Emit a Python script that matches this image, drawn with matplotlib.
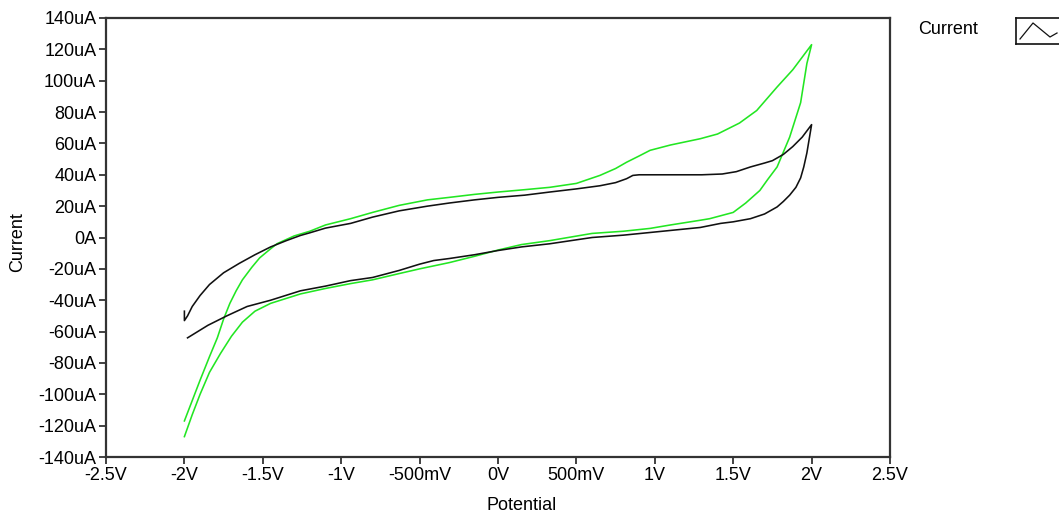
import matplotlib
matplotlib.use("Agg")
from matplotlib import pyplot as plt
from matplotlib.ticker import FixedLocator

plt.rcParams['font.family'] = ['Liberation Sans', 'DejaVu Sans']

# potential in V, current in uA
black_fwd_v = [-2.0, -2.0, -1.98, -1.95, -1.9, -1.84, -1.75, -1.65, -1.55, -1.45, -1.35, -1.26, -1.2, -1.1,
               -0.94, -0.8, -0.63, -0.45, -0.31, -0.15, 0.0, 0.17, 0.33, 0.5, 0.65, 0.75, 0.82, 0.86, 0.9,
               1.1, 1.3, 1.43, 1.52, 1.61, 1.7, 1.75, 1.82, 1.88, 1.94, 2.0]
black_fwd_i = [-47, -53, -50, -44, -37, -30, -22.5, -16.5, -11, -6, -2, 1.3, 3, 6,
               9, 13, 17, 20, 22, 24, 25.6, 27, 29, 31, 33, 35, 37.5, 39.6, 40,
               40, 40, 40.5, 42, 45, 47.5, 49, 53, 58, 64, 72]

black_rev_v = [2.0, 1.99, 1.98, 1.97, 1.95, 1.93, 1.9, 1.86, 1.82, 1.78, 1.7, 1.61, 1.5, 1.42, 1.29,
               1.1, 0.97, 0.8, 0.6, 0.33, 0.15, 0.0, -0.15, -0.31, -0.41, -0.5, -0.63, -0.8, -0.94,
               -1.1, -1.26, -1.45, -1.6, -1.73, -1.85, -1.98]
black_rev_i = [72, 66, 60, 54, 45, 38, 32, 27, 23, 19.5, 15, 12, 10, 9, 6.4,
               4.5, 3.2, 1.5, 0, -4, -6, -8.3, -11, -13.4, -14.7, -17, -21, -25.5, -27.5,
               -31, -34, -40, -44, -50, -56, -64]

green_fwd_v = [-2.0, -1.95, -1.9, -1.84, -1.79, -1.75, -1.71, -1.67, -1.63, -1.57, -1.52, -1.46, -1.41,
               -1.3, -1.2, -1.1, -0.94, -0.8, -0.63, -0.45, -0.31, -0.15, 0.0, 0.17, 0.33, 0.5, 0.65,
               0.75, 0.82, 0.9, 0.97, 1.1, 1.29, 1.4, 1.54, 1.65, 1.78, 1.88, 2.0]
green_fwd_i = [-117, -104, -91, -76, -64, -52, -42, -34, -27, -19, -13, -8, -4,
               1, 4, 8, 12, 16, 20.5, 24, 25.6, 27.5, 29, 30.5, 32, 34.5, 39.6,
               44, 48, 52, 55.6, 59, 63, 66, 73, 81, 96, 107, 123]

green_rev_v = [2.0, 1.97, 1.93, 1.86, 1.78, 1.72, 1.67, 1.58, 1.5, 1.35, 1.29, 1.1, 0.97, 0.8, 0.6,
               0.33, 0.15, 0.0, -0.15, -0.31, -0.5, -0.63, -0.8, -0.94, -1.1, -1.26, -1.45, -1.55,
               -1.63, -1.7, -1.77, -1.84, -1.9, -1.95, -2.0]
green_rev_i = [123, 111, 86, 64, 45, 37, 30, 22, 16, 12, 11, 8, 5.8, 4, 2.6,
               -2, -4.5, -8, -12, -16, -20, -23, -27, -29.4, -32.5, -36, -42, -47,
               -54, -63, -74, -86, -100, -113, -127]

x_ticks = [-2.5, -2.0, -1.5, -1.0, -0.5, 0.0, 0.5, 1.0, 1.5, 2.0, 2.5]
x_labels = ['-2.5V', '-2V', '-1.5V', '-1V', '-500mV', '0V', '500mV', '1V', '1.5V', '2V', '2.5V']
y_ticks = list(range(-140, 141, 20))
y_labels = ['%duA' % v if v != 0 else '0A' for v in y_ticks]

GREEN = '#22e622'
FS = 13


def main():
	fig = plt.figure(figsize=(10.59, 5.15), dpi=100)
	ax = fig.add_axes([106 / 1059, 1 - 457 / 515, 784 / 1059, 439 / 515])

	ax.plot(green_fwd_v + green_rev_v, green_fwd_i + green_rev_i, color=GREEN, lw=1.15)
	ax.plot(black_fwd_v + black_rev_v, black_fwd_i + black_rev_i, color='#111111', lw=1.15)

	ax.set_xlim(-2.5, 2.5)
	ax.set_ylim(-140, 140)
	ax.xaxis.set_major_locator(FixedLocator(x_ticks))
	ax.yaxis.set_major_locator(FixedLocator(y_ticks))
	ax.set_xticklabels(x_labels, fontsize=FS)
	ax.set_yticklabels(y_labels, fontsize=FS)
	ax.tick_params(direction='out', length=5, width=1.3, color='#333333', pad=2)
	for s in ax.spines.values():
		s.set_linewidth(1.6)
		s.set_color('#333333')

	fig.text(522 / 1059, 1 - 505 / 515, 'Potential', ha='center', va='center', fontsize=FS)
	fig.text(18 / 1059, 1 - 242 / 515, 'Current', ha='center', va='center', rotation=90, fontsize=FS)

	# legend, drawn like the plot legend of the original
	fig.text(948 / 1059, 1 - 30 / 515, 'Current', ha='center', va='center', fontsize=FS)
	lax = fig.add_axes([1016 / 1059, 1 - 44 / 515, 50 / 1059, 26 / 515])
	lax.set_xlim(0, 50)
	lax.set_ylim(0, 26)
	lax.plot([4, 17, 34, 41], [5, 21, 7, 11], color='#111111', lw=0.9)
	lax.set_xticks([])
	lax.set_yticks([])
	for s in lax.spines.values():
		s.set_linewidth(1.2)
		s.set_color('#111111')

	fig.savefig('out.png', dpi=100)


main()
